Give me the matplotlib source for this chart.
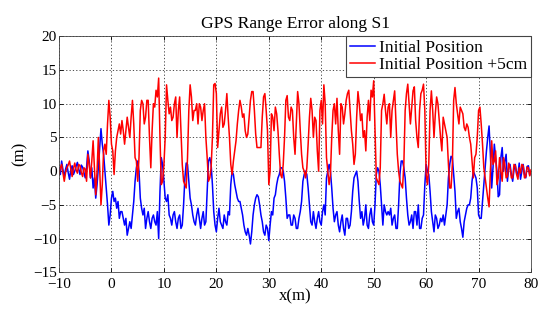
import numpy as np
import matplotlib
matplotlib.use('Agg')
import matplotlib.pyplot as plt

plt.rcParams['font.family'] = ['Liberation Serif', 'DejaVu Serif']

# range error (m), one value every 0.25 m from x = -10 to x = 80
blue_err = [
    0.5, -0.5, 1.5, 0.2, -0.8, 0.3, 1.0, -0.2, -1.2, 0.2,            # -10
    0.8, -0.5, 0.0, 0.7, 1.3, 0.3, -0.5, 0.9, 0.6, -0.2,
    -1.0, 0.5, 3.0, 1.5, -1.0, 0.5, -2.5, -1.0, -4.0, -2.0,          # -5
    0.5, 3.5, 6.3, 4.0, 2.5, 0.0, -2.5, -5.0, -8.0, -6.5,
    -4.0, -3.0, -4.5, -4.0, -5.5, -4.5, -7.0, -6.0, -6.0, -7.0,      # 0
    -8.0, -7.0, -9.5, -8.5, -7.5, -8.5, -6.5, -4.5, -1.5, 0.5,
    1.5, 0.0, -4.0, -5.5, -6.5, -5.5, -8.5, -7.0, -6.0, -7.5,        # 5
    -8.5, -7.0, -6.5, -7.5, -8.0, -6.0, -10.0, -3.0, 2.0, 1.0,
    -1.5, -4.0, -4.5, -3.5, -6.5, -7.0, -8.0, -6.5, -6.0, -7.5,      # 10
    -8.5, -7.0, -6.5, -8.5, -8.0, -5.0, -1.0, 1.2, 1.0, -1.5,
    -4.0, -5.0, -6.5, -7.5, -8.0, -6.5, -5.5, -7.0, -8.5, -7.0,      # 15
    -6.0, -8.0, -7.5, -3.0, 1.5, 2.0, 1.0, -2.0, -6.0, -8.0,
    -9.0, -7.0, -5.5, -7.5, -8.0, -8.5, -6.5, -7.5, -8.0, -6.0,      # 20
    -6.5, -2.0, 0.0, -0.5, -2.0, -3.0, -4.0, -4.5, -4.5, -5.5,
    -6.5, -8.0, -9.0, -9.5, -8.5, -9.5, -10.8, -9.0, -6.5, -5.0,     # 25
    -4.0, -3.5, -3.8, -5.0, -6.5, -7.5, -9.0, -9.5, -8.0, -8.5,
    -10.3, -8.0, -6.0, -6.5, -4.0, -3.5, -2.0, -1.0, -0.5, 0.5,      # 30
    0.5, 0.0, -1.5, -4.0, -7.0, -6.5, -6.5, -8.0, -8.0, -6.5,
    -7.0, -8.5, -8.5, -7.0, -6.0, -4.5, -1.5, -0.5, 0.0, -0.5,       # 35
    -2.5, -5.0, -7.5, -8.0, -6.0, -7.5, -8.5, -7.0, -6.0, -7.5,
    -8.0, -6.0, -5.0, -6.5, -1.0, 0.0, 1.0, 0.0, -2.5, -5.5,         # 40
    -7.5, -6.5, -6.0, -8.0, -9.0, -7.5, -6.5, -8.5, -9.5, -7.0,
    -7.0, -8.5, -8.0, -6.0, -3.0, -1.0, -0.5, 0.0, -1.5, -4.5,       # 45
    -7.0, -6.0, -8.0, -7.0, -5.0, -8.0, -8.5, -6.5, -5.5, -7.5,
    -8.0, -5.0, -0.5, 0.5, 0.0, -2.0, -5.0, -8.0, -5.0, -6.0,        # 50
    -6.5, -6.0, -6.5, -5.5, -8.0, -7.0, -6.5, -8.5, -8.5, -5.0,
    -0.5, 1.5, 1.5, 0.5, -1.0, -4.0, -6.5, -8.0, -7.5, -6.5,         # 55
    -8.5, -6.0, -6.0, -8.0, -5.0, -8.5, -8.5, -7.0, -6.5, -2.0,
    1.0, 0.0, -0.5, -3.0, -6.0, -7.5, -9.0, -6.5, -7.0, -8.5,        # 60
    -8.0, -7.0, -7.5, -6.5, -8.0, -6.5, -5.0, -1.0, 1.0, 2.2,
    2.0, -0.5, -3.0, -7.0, -6.0, -5.5, -7.5, -8.5, -9.8, -7.5,       # 65
    -6.5, -5.5, -5.0, -5.0, -4.0, -1.5, 0.0, -0.5, -1.0, -2.5,
    -6.5, -7.0, -7.0, -4.5, -2.0, 0.5, 3.0, 5.0, 6.7, 2.5,           # 70
    -2.5, 0.5, 4.0, 2.0, 0.0, -3.8, -3.5, 2.0, 3.5, 0.0,
    1.5, 2.5, -1.5, 0.5, 1.0, -0.5, -1.5, 0.2, 1.0, -0.3,            # 75
    -0.5, 1.2, -1.2, 0.0, 1.0, -0.5, -1.0, 0.7, 0.8, -0.6,
    0.0,
]

red_err = [
    -0.5, 0.5, 1.0, -0.3, -1.5, -0.2, 0.5, 0.9, 1.5, 0.3,            # -10
    -0.8, 0.4, 1.2, 0.2, -0.3, 1.0, 0.8, -0.2, -0.8, 0.5,
    0.3, -1.5, 2.5, 1.0, -1.0, 1.5, 4.5, 0.5, -3.5, 0.0,             # -5
    5.0, 0.5, -5.0, -2.0, 3.0, 4.0, 2.5, 7.0, 10.5, 8.0,
    4.0, 3.0, -0.5, 3.0, 5.0, 6.0, 7.0, 5.5, 7.5, 6.0,               # 0
    4.0, 6.0, 8.0, 6.5, 5.0, 8.0, 10.5, 7.0, 2.0, 1.5,
    -1.5, 2.0, 9.0, 10.5, 10.0, 7.0, 8.0, 10.5, 10.5, 5.0,           # 5
    0.5, 6.0, 10.0, 9.5, 12.0, 11.0, 13.8, 5.0, -2.0, -1.5,
    1.0, 5.0, 12.8, 10.5, 8.5, 9.5, 7.5, 8.0, 10.0, 11.0,            # 10
    5.0, 9.0, 11.0, 6.0, 1.0, -1.5, -2.0, -2.5, 2.0, 9.0,
    12.8, 11.0, 7.5, 9.0, 9.0, 10.0, 7.0, 10.0, 9.5, 7.5,            # 15
    9.0, 10.0, 5.0, 2.0, -1.5, -1.0, 0.5, 5.0, 12.8, 13.0,
    11.5, 3.5, 6.0, 8.5, 9.5, 6.5, 7.0, 9.0, 11.5, 8.0,              # 20
    5.0, 1.0, -0.5, 1.5, 3.0, 4.5, 7.0, 9.0, 10.5, 9.5,
    8.0, 8.5, 6.0, 5.0, 5.5, 8.0, 10.5, 11.8, 11.8, 9.0,             # 25
    5.5, 3.5, 3.5, 3.5, 3.5, 8.0, 11.0, 11.5, 9.0, 6.0,
    -2.0, 0.0, 8.5, 8.0, 6.0, 9.5, 8.5, 6.0, 2.5, -0.5,              # 30
    -1.0, 1.0, 5.0, 10.5, 11.2, 8.0, 7.5, 9.5, 9.0, 5.0,
    2.5, 7.0, 11.8, 10.0, 6.0, 2.5, 0.5, 0.0, -1.0, 0.5,             # 35
    4.0, 8.0, 10.8, 9.0, 5.0, 8.0, 7.5, 3.0, 0.0, 9.0,
    10.5, 7.0, 12.8, 10.0, 2.0, 0.0, -2.0, -0.5, 5.0, 9.0,           # 40
    10.0, 7.0, 10.8, 6.0, 2.5, 10.0, 9.5, 7.0, 8.5, 10.5,
    11.5, 12.0, 9.0, 6.0, 4.0, 1.0, 2.5, 8.0, 11.8, 10.0,            # 45
    7.5, 8.5, 5.0, 6.0, 3.0, 8.0, 10.5, 7.5, 12.0, 11.0,
    13.4, 6.0, -1.0, -1.5, -2.0, 0.5, 9.0, 10.0, 11.4, 9.0,          # 50
    7.0, 9.5, 10.0, 5.0, 9.0, 10.5, 11.9, 7.0, 2.5, 0.0,
    -1.5, -2.0, -2.5, 1.0, 9.0, 11.5, 12.9, 10.0, 7.0, 9.5,          # 55
    11.9, 12.5, 7.5, 5.0, 3.5, 9.0, 11.5, 12.0, 12.9, 9.0,
    -0.5, -2.0, 1.0, 9.0, 11.9, 9.0, 5.0, 8.5, 11.0, 10.0,           # 60
    7.5, 5.0, 3.0, 8.0, 7.0, 6.0, 5.0, 1.0, -2.5, -2.5,
    1.0, 10.5, 12.4, 10.0, 8.5, 7.0, 9.5, 9.0, 8.5, 6.5,             # 65
    6.0, 7.0, 6.5, 5.0, 4.0, 1.5, -1.0, 2.0, 2.5, 5.0,
    9.0, 9.5, 7.0, 4.0, 0.5, -1.0, -2.5, -4.0, -5.3, 0.0,            # 70
    4.5, 1.0, 1.5, 3.0, -2.0, -1.0, 2.0, 0.0, -1.5, 2.0,
    1.0, -1.0, -0.8, 1.2, 0.5, -1.0, -1.0, 1.0, 0.8, -0.5,           # 75
    -1.2, 0.5, -0.3, 1.0, 0.8, -1.0, -0.8, 0.6, 0.5, -0.7,
    0.2,
]

labels = ['Initial Position', 'Initial Position +5cm']
x = np.linspace(-10, 80, len(blue_err))

fig = plt.figure(figsize=(5.47, 3.09), dpi=100)
ax = fig.add_axes([0.1079, 0.1188, 0.8629, 0.7638])

ax.plot(x, blue_err, color='#0000ff', lw=1.1, label=labels[0])
ax.plot(x, red_err, color='#ff0000', lw=1.1, label=labels[1])

ax.set_xlim(-10, 80)
ax.set_ylim(-15, 20)
ax.set_xticks(np.arange(-10, 81, 10))
ax.set_yticks(np.arange(-15, 21, 5))
ax.grid(True, linestyle=(0, (1.5, 2.5)), color='#333333', linewidth=0.6)
ax.tick_params(direction='in', top=True, right=True, labelsize=11, length=3,
               pad=1.5, width=0.6)
ax.tick_params(axis='x', pad=4)
for s in ax.spines.values():
    s.set_linewidth(0.6)
    s.set_color('#444444')

ax.set_title('GPS Range Error along S1', fontsize=12.6, pad=6)
ax.set_xlabel('x(m)', fontsize=12, labelpad=-2)
ax.set_ylabel('(m)', fontsize=12, labelpad=4)

leg = ax.legend(loc='upper right', fontsize=12.6, borderaxespad=0,
                fancybox=False, framealpha=1, handlelength=1.45,
                handletextpad=0.25, borderpad=0.2, labelspacing=0.05)
leg.get_frame().set_edgecolor('#444444')
leg.get_frame().set_linewidth(0.8)

fig.savefig('out.png', dpi=100)
